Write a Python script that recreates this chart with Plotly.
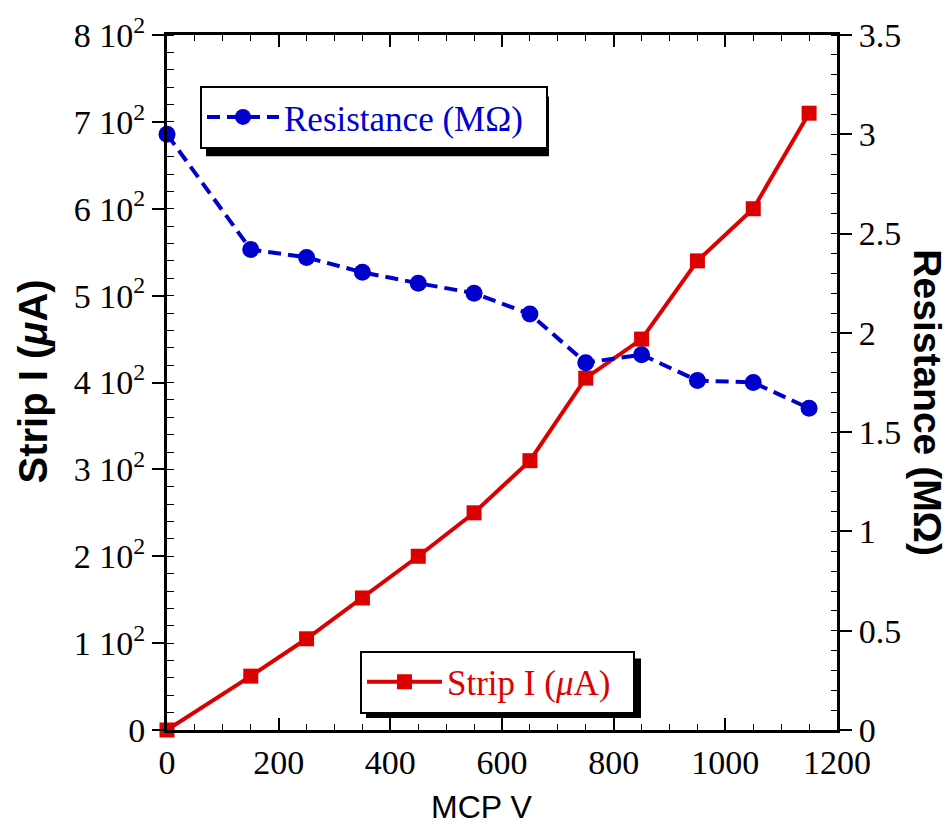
import plotly.graph_objects as go

mcp_v = [0, 150, 250, 350, 450, 550, 650, 750, 850, 950, 1050, 1150]
strip_i = [0, 62, 105, 152, 200, 250, 310, 405, 450, 540, 600, 710]
resistance = [3.0, 2.42, 2.38, 2.305, 2.25, 2.2, 2.095, 1.85, 1.89, 1.76, 1.75, 1.62]

left_tickvals = [0, 100, 200, 300, 400, 500, 600, 700, 800]
left_ticktext = ["0", "1 10<sup>2</sup>", "2 10<sup>2</sup>", "3 10<sup>2</sup>", "4 10<sup>2</sup>",
                 "5 10<sup>2</sup>", "6 10<sup>2</sup>", "7 10<sup>2</sup>", "8 10<sup>2</sup>"]

RED = "#dd0000"
BLUE = "#0000cc"
SERIF = "Liberation Serif"
SANS = "Liberation Sans"

fig = go.Figure()
fig.add_trace(go.Scatter(
    x=mcp_v, y=strip_i, name="Strip I (<i>μ</i>A)&nbsp;&nbsp;", mode="lines+markers",
    line=dict(color=RED, width=4), marker=dict(symbol="square", size=15, color=RED),
    cliponaxis=False, legend="legend2", yaxis="y"))
fig.add_trace(go.Scatter(
    x=mcp_v, y=resistance, name="Resistance (MΩ)&nbsp;&nbsp;", mode="lines+markers",
    line=dict(color=BLUE, width=4, dash="13px,7px"), marker=dict(symbol="circle", size=17, color=BLUE),
    cliponaxis=False, legend="legend", yaxis="y2"))

axis_line = dict(showline=True, linecolor="black", linewidth=3, showgrid=False, zeroline=False)

W, H, L, T = 670, 700, 167, 30
def px(x):
    return (x - L) / W
def py(y):
    return (T + H - y) / H

fig.update_layout(
    width=949, height=828, showlegend=True,
    margin=dict(l=167, r=112, t=30, b=98),
    plot_bgcolor="white", paper_bgcolor="white",
    xaxis=dict(range=[0, 1200], dtick=200, tick0=0, ticks="inside", ticklen=12, tickwidth=1.5,
               tickcolor="black", mirror="ticks",
               minor=dict(dtick=50, ticks="inside", ticklen=6, tickwidth=1.2, tickcolor="black"),
               tickfont=dict(family=SERIF, size=34, color="black"), **axis_line),
    yaxis=dict(range=[0, 800], tickvals=left_tickvals, ticktext=left_ticktext, ticks="outside",
               ticklen=12, tickwidth=1.5, tickcolor="black",
               minor=dict(dtick=20, tick0=0, ticks="inside", ticklen=7, tickwidth=1.2, tickcolor="black"),
               tickfont=dict(family=SERIF, size=34, color="black"), **axis_line),
    yaxis3=dict(range=[0, 800], tickvals=left_tickvals, ticks="inside", ticklen=11, tickwidth=1.5,
                tickcolor="black", showticklabels=False, overlaying="y", side="left", anchor="x",
                showgrid=False, zeroline=False),
    yaxis2=dict(range=[0, 3.5], dtick=0.5, tick0=0, ticks="outside", ticklen=12, tickwidth=1.5,
                tickcolor="black", overlaying="y", side="right", anchor="x",
                minor=dict(dtick=0.1, tick0=0, ticks="inside", ticklen=6, tickwidth=1.2, tickcolor="black"),
                tickfont=dict(family=SERIF, size=34, color="black"), **axis_line),
    yaxis4=dict(range=[0, 3.5], dtick=0.5, tick0=0, ticks="inside", ticklen=11, tickwidth=1.5,
                tickcolor="black", showticklabels=False, overlaying="y", side="right", anchor="x",
                showgrid=False, zeroline=False),
    legend=dict(x=px(200), y=py(81), xanchor="left", yanchor="top", bgcolor="white",
                bordercolor="black", borderwidth=2, itemwidth=72,
                font=dict(family=SERIF, size=35, color=BLUE)),
    legend2=dict(x=px(360), y=py(650), xanchor="left", yanchor="top", bgcolor="white",
                 bordercolor="black", borderwidth=2, itemwidth=75,
                 font=dict(family=SERIF, size=35, color=RED)),
    annotations=[
        dict(text="<b>Strip I (<i>μ</i>A)</b>", x=px(33), y=py(379), xref="paper", yref="paper",
             xanchor="center", yanchor="middle",
             textangle=-90, showarrow=False, font=dict(family=SANS, size=40, color="black")),
        dict(text="<b>Resistance (MΩ)</b>", x=px(928), y=py(400), xref="paper", yref="paper",
             xanchor="center", yanchor="middle",
             textangle=90, showarrow=False, font=dict(family=SANS, size=39, color="black")),
        dict(text="MCP V", x=px(481), y=py(808), xref="paper", yref="paper",
             xanchor="center", yanchor="middle",
             showarrow=False, font=dict(family=SANS, size=32, color="black")),
    ],
    shapes=[
        dict(type="rect", xref="paper", yref="paper", x0=px(206), x1=px(549),
             y0=py(152), y1=py(92), fillcolor="black", line=dict(width=0), layer="above"),
        dict(type="rect", xref="paper", yref="paper", x0=px(366), x1=px(641),
             y0=py(718), y1=py(658), fillcolor="black", line=dict(width=0), layer="above"),
    ],
)

fig.write_html("out.html")
